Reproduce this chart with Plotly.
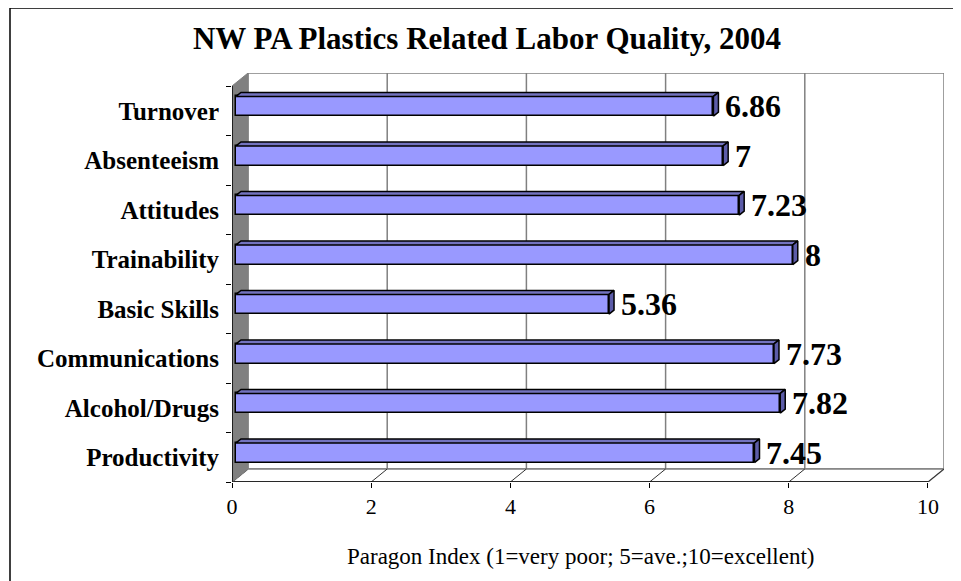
import plotly.graph_objects as go

# data (top to bottom as shown)
categories = ["Turnover", "Absenteeism", "Attitudes", "Trainability",
              "Basic Skills", "Communications", "Alcohol/Drugs", "Productivity"]
scores = [6.86, 7, 7.23, 8, 5.36, 7.73, 7.82, 7.45]
score_labels = ["6.86", "7", "7.23", "8", "5.36", "7.73", "7.82", "7.45"]
x_ticks = [0, 2, 4, 6, 8, 10]

# 3d look: back wall offset and bar depth (data units)
DX, DY = 0.23, 0.263
SX, SY = 0.057, 0.09      # bar front face offset from front plane
BX, BY = 0.072, 0.081     # bar depth
H = 0.2                   # half bar height

n = len(categories)
ypos = [n - 0.5 - i for i in range(n)]
FONT = "Liberation Serif, Times New Roman, serif"

fig = go.Figure()

# back wall + floor + side wall as shapes
shapes = []
shapes.append(dict(type="rect", xref="x", yref="y", x0=DX, x1=10 + DX, y0=DY, y1=8 + DY,
                   line=dict(color="#808080", width=1.5), fillcolor="white", layer="below"))
for t in x_ticks[1:-1]:
    shapes.append(dict(type="line", xref="x", yref="y", x0=t + DX, x1=t + DX, y0=DY, y1=8 + DY,
                       line=dict(color="#808080", width=1.5), layer="below"))
# floor
shapes.append(dict(type="path", xref="x", yref="y",
                   path=f"M 0 0 L 10 0 L {10+DX} {DY} L {DX} {DY} Z",
                   line=dict(color="#808080", width=1.5), fillcolor="white", layer="below"))
for t in x_ticks:
    shapes.append(dict(type="line", xref="x", yref="y", x0=t, x1=t + DX, y0=0, y1=DY,
                       line=dict(color="#303030", width=1), layer="below"))
shapes.append(dict(type="line", xref="x", yref="y", x0=0, x1=10, y0=0, y1=0,
                   line=dict(color="black", width=1.5), layer="below"))
# side wall
shapes.append(dict(type="path", xref="x", yref="y",
                   path=f"M 0 0 L {DX} {DY} L {DX} {8+DY} L 0 8 Z",
                   line=dict(color="#808080", width=1), fillcolor="#808080", layer="below"))
shapes.append(dict(type="line", xref="x", yref="y", x0=0, x1=0, y0=0, y1=8,
                   line=dict(color="black", width=1.5), layer="below"))
# outer border
shapes.append(dict(type="rect", xref="paper", yref="paper",
                   x0=-0.3118, x1=1.08, y0=-0.29, y1=1.1589,
                   line=dict(color="black", width=1.5), fillcolor="rgba(0,0,0,0)"))

# bar fronts
fig.add_trace(go.Bar(
    y=[y + SY for y in ypos], x=scores, base=SX, orientation="h", width=2 * H,
    marker=dict(color="#9999FF", line=dict(color="black", width=1.5)),
    hoverinfo="skip", showlegend=False,
))

# bar tops and ends
top_x, top_y, end_x, end_y = [], [], [], []
for y, v in zip(ypos, scores):
    yc = y + SY
    top_x += [SX, v + SX, v + SX + BX, SX + BX, SX, None]
    top_y += [yc + H, yc + H, yc + H + BY, yc + H + BY, yc + H, None]
    end_x += [v + SX, v + SX + BX, v + SX + BX, v + SX, v + SX, None]
    end_y += [yc - H, yc - H + BY, yc + H + BY, yc + H, yc - H, None]
fig.add_trace(go.Scatter(x=top_x, y=top_y, mode="lines", fill="toself",
                         fillcolor="#7373BF", line=dict(color="black", width=1.5),
                         hoverinfo="skip", showlegend=False))
fig.add_trace(go.Scatter(x=end_x, y=end_y, mode="lines", fill="toself",
                         fillcolor="#5C5CA8", line=dict(color="black", width=1.5),
                         hoverinfo="skip", showlegend=False))

annotations = []
for y, v, lab in zip(ypos, scores, score_labels):
    annotations.append(dict(x=v + SX + BX, y=y + SY, text=f"<b>{lab}</b>", showarrow=False,
                            xanchor="left", yanchor="middle", xshift=5,
                            font=dict(family=FONT, size=32, color="black")))
annotations.append(dict(x=5, y=-0.183, xref="x", yref="paper",
                        text="Paragon Index (1=very poor; 5=ave.;10=excellent)",
                        showarrow=False, xanchor="center", yanchor="middle",
                        font=dict(family=FONT, size=23, color="black")))

# page body adds an 8px offset, so margins are shifted back by 8
fig.update_layout(
    width=961, height=581,
    margin=dict(l=224, r=25, t=65, b=107),
    paper_bgcolor="white", plot_bgcolor="white",
    title=dict(text="<b>NW PA Plastics Related Labor Quality, 2004</b>",
               x=479 / 961, xanchor="center", xref="container",
               y=1 - 30 / 581, yanchor="middle",
               font=dict(family=FONT, size=31, color="black")),
    shapes=shapes, annotations=annotations,
    bargap=0,
)
fig.update_xaxes(range=[0, 10.23], tickvals=x_ticks, ticks="outside", ticklen=5,
                 tickcolor="black", showgrid=False, zeroline=False, showline=False,
                 tickfont=dict(family=FONT, size=22, color="black"))
fig.update_yaxes(range=[0, 8.263], tickvals=ypos,
                 ticktext=[f"<b>{c}</b>" for c in categories], ticks="",
                 showgrid=False, zeroline=False, showline=False, ticklabelstandoff=12,
                 tickfont=dict(family=FONT, size=25, color="black"),
                 minor=dict(tickvals=list(range(9)), ticks="outside", ticklen=5,
                            tickcolor="black", showgrid=False))

fig.write_html("out.html")
